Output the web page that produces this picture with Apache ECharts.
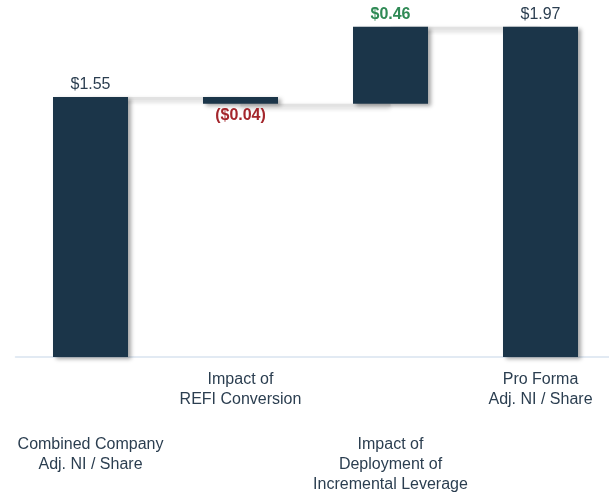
<!DOCTYPE html>
<html>
<head>
<meta charset="utf-8">
<script src="https://cdn.jsdelivr.net/npm/echarts@6/dist/echarts.min.js"></script>
<style>
html,body{margin:0;padding:0;background:#fff;overflow:hidden;width:609px;height:499px;}
#c{width:616px;height:499px;}
</style>
</head>
<body>
<div id="c"></div>
<script>
var categories = ["Combined Company\nAdj. NI / Share", "Impact of\nREFI Conversion", "Impact of\nDeployment of\nIncremental Leverage", "Pro Forma\nAdj. NI / Share"];
var values = [1.55, -0.04, 0.46, 1.97];
var isTotal = [true, false, false, true];
var valueLabels = ["$1.55", "($0.04)", "$0.46", "$1.97"];

var BAR = '#1b3549';
var TXT = '#2b3e50';
var RED = '#a4262c';
var GREEN = '#2f8a55';

var baseData = [], barData = [], levels = [];
var running = 0;
for (var i = 0; i < values.length; i++) {
  var v = values[i];
  var base, h, color, bold, pos;
  if (isTotal[i]) {
    base = 0; h = v; running = v; color = TXT; bold = 'normal'; pos = 'top';
  } else {
    base = v < 0 ? running + v : running;
    h = Math.abs(v);
    running = running + v;
    color = v < 0 ? RED : GREEN; bold = 'bold'; pos = v < 0 ? 'bottom' : 'top';
  }
  levels.push(running);
  baseData.push(base);
  barData.push({
    value: h,
    label: { show: true, position: pos, distance: 4, formatter: valueLabels[i], color: color, fontWeight: bold, fontSize: 16, fontFamily: 'Liberation Sans, Arial, sans-serif' }
  });
}
var connectors = [];
for (var j = 0; j < levels.length - 1; j++) connectors.push([j, levels[j]]);

var chart = echarts.init(document.getElementById('c'));
var labelFont = { fontSize: 16, lineHeight: 20, color: TXT, fontFamily: 'Liberation Sans, Arial, sans-serif' };
chart.setOption({
  animation: false,
  grid: { left: 15.5, width: 600, top: 21.6, bottom: 142 },
  xAxis: [
    {
      type: 'category', data: categories, position: 'bottom',
      axisLine: { show: true, lineStyle: { color: '#d9e4f0', width: 1.5 } },
      axisTick: { show: false },
      axisLabel: Object.assign({ interval: 0, margin: 13, formatter: function (v, i) { return i % 2 === 1 ? v : ''; } }, labelFont)
    },
    {
      type: 'category', data: categories, position: 'bottom', offset: 0,
      axisLine: { show: false }, axisTick: { show: false },
      axisLabel: Object.assign({ interval: 0, margin: 78, formatter: function (v, i) { return i % 2 === 0 ? v : ''; } }, labelFont)
    }
  ],
  yAxis: { type: 'value', min: 0, max: 2, show: false, splitLine: { show: false } },
  series: [
    {
      type: 'custom', xAxisIndex: 0, z: 1,
      data: connectors,
      renderItem: function (params, api) {
        var i = api.value(0);
        var p1 = api.coord([i, api.value(1)]);
        var p2 = api.coord([i + 1, api.value(1)]);
        return {
          type: 'line',
          shape: { x1: p1[0], y1: p1[1] + 1.5, x2: p2[0], y2: p2[1] + 1.5 },
          style: { stroke: '#e2e2e2', lineWidth: 3, shadowColor: 'rgba(0,0,0,0.18)', shadowBlur: 4, shadowOffsetY: 2 }
        };
      }
    },
    {
      type: 'bar', stack: 'w', xAxisIndex: 0, z: 2, barWidth: '50%',
      itemStyle: { color: 'transparent' },
      data: baseData, silent: true
    },
    {
      type: 'bar', stack: 'w', xAxisIndex: 0, z: 3, barWidth: '50%',
      itemStyle: { color: BAR, shadowColor: 'rgba(0,0,0,0.35)', shadowBlur: 4, shadowOffsetX: 3, shadowOffsetY: 2 },
      data: barData
    }
  ]
});
</script>
</body>
</html>
